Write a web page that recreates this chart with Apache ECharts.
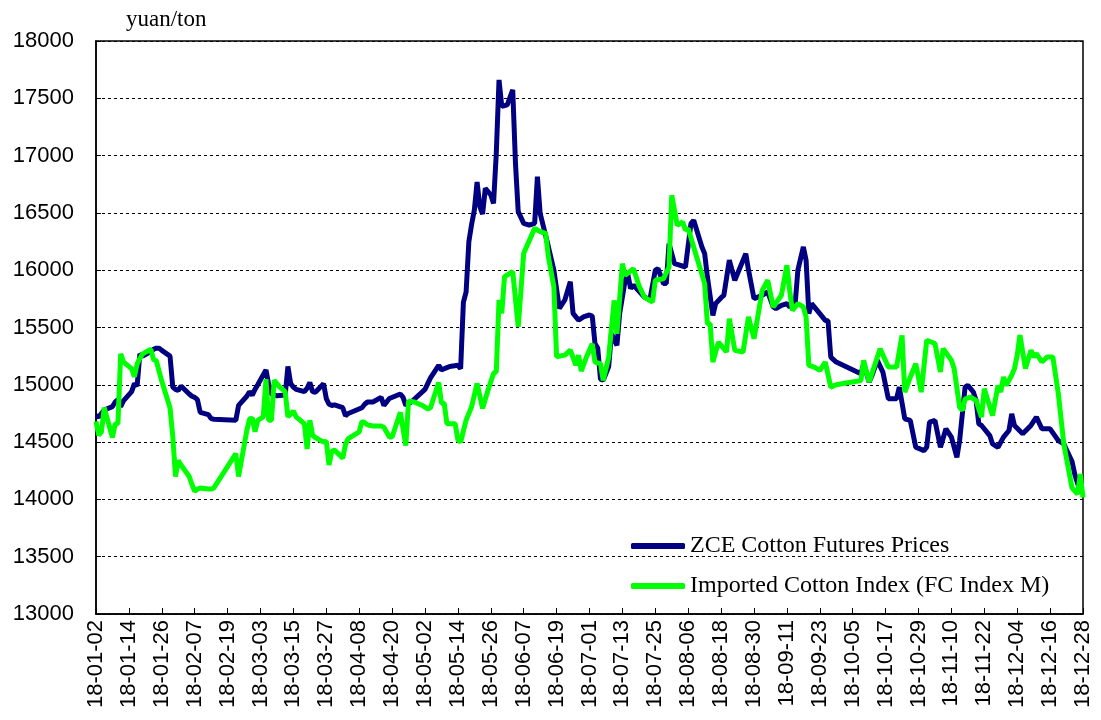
<!DOCTYPE html>
<html><head><meta charset="utf-8">
<script src="https://cdn.jsdelivr.net/npm/echarts@6/dist/echarts.min.js"></script>
<style>html,body{margin:0;padding:0;background:#fff}#c{width:1101px;height:720px}</style>
</head><body><div id="c"></div>
<script>
const unitLabel = 'yuan/ton';
const seriesNames = ['ZCE Cotton Futures Prices', 'Imported Cotton Index (FC Index M)'];
const yMin = 13000, yMax = 18000, yStep = 500;
const labelEveryDays = 12;

// [date (MM-DD, 2018), yuan/ton]
const zcePrices = [
['01-02',14730],['01-03',14720],['01-05',14780],['01-08',14810],['01-09',14850],['01-10',14870],['01-11',14810],['01-12',14860],
['01-15',14940],['01-16',15010],['01-17',14990],['01-18',15270],['01-19',15250],['01-22',15290],['01-23',15310],['01-24',15320],
['01-25',15320],['01-26',15300],['01-29',15250],['01-30',14980],['01-31',14960],['02-01',14950],['02-02',14990],['02-05',14920],
['02-06',14900],['02-07',14890],['02-08',14870],['02-09',14760],['02-12',14740],['02-13',14705],['02-14',14700],['02-22',14690],
['02-23',14820],['02-26',14900],['02-27',14940],['02-28',14910],['03-01',14960],['03-02',15000],['03-05',15130],['03-06',15000],
['03-07',14920],['03-08',14910],['03-09',14905],['03-12',14910],['03-13',15160],['03-14',15010],['03-15',14980],['03-16',14960],
['03-19',14940],['03-20',14970],['03-21',15020],['03-22',14940],['03-23',14935],['03-26',15010],['03-27',14880],['03-28',14830],
['03-29',14820],['03-30',14825],['04-02',14800],['04-03',14730],['04-04',14750],['04-09',14800],['04-10',14830],['04-11',14850],
['04-13',14850],['04-16',14890],['04-17',14820],['04-19',14880],['04-23',14920],['04-24',14890],['04-25',14820],['04-27',14850],
['05-02',14960],['05-03',15010],['05-04',15060],['05-07',15170],['05-08',15130],['05-09',15140],['05-10',15150],['05-11',15160],
['05-14',15170],['05-15',15140],['05-16',15720],['05-17',15810],['05-18',16250],['05-19',16400],['05-20',16525],['05-21',16770],
['05-22',16554],['05-23',16490],['05-24',16714],['05-26',16656],['05-27',16583],['05-28',17020],['05-29',17660],['05-30',17430],
['06-01',17442],['06-03',17573],['06-04',16933],['06-05',16511],['06-07',16409],['06-09',16394],['06-11',16409],['06-12',16816],
['06-13',16496],['06-16',16205],['06-18',16001],['06-20',15667],['06-22',15740],['06-24',15900],['06-25',15623],['06-27',15565],
['06-29',15594],['07-01',15609],['07-02',15600],['07-03',15360],['07-04',15320],['07-05',15050],['07-06',15040],['07-08',15160],
['07-09',15446],['07-11',15344],['07-12',15621],['07-14',15912],['07-15',15960],['07-16',15840],['07-17',15870],['07-21',15766],
['07-23',15740],['07-25',16001],['07-26',16014],['07-28',15883],['07-29',15883],['07-30',16232],['08-01',16057],['08-02',16050],
['08-05',16028],['08-07',16407],['08-08',16436],['08-11',16203],['08-12',16145],['08-13',15941],['08-15',15606],['08-16',15708],
['08-18',15760],['08-19',15781],['08-21',16087],['08-23',15912],['08-27',16145],['08-28',16001],['08-30',15752],['09-02',15780],
['09-04',15810],['09-06',15679],['09-07',15664],['09-09',15693],['09-11',15708],['09-12',15679],['09-14',15700],['09-15',16001],
['09-17',16203],['09-18',16087],['09-19',15621],['09-20',15708],['09-23',15621],['09-25',15562],['09-26',15560],['09-27',15242],
['09-29',15198],['10-08',15096],['10-09',15184],['10-11',15024],['10-12',15080],['10-14',15213],['10-16',15111],['10-18',14878],
['10-21',14878],['10-22',14980],['10-24',14703],['10-26',14689],['10-28',14456],['10-31',14426],['11-01',14455],['11-02',14674],
['11-04',14689],['11-06',14455],['11-08',14616],['11-10',14543],['11-12',14367],['11-13',14513],['11-15',14980],['11-16',14995],
['11-18',14937],['11-19',14864],['11-20',14659],['11-21',14645],['11-24',14557],['11-25',14484],['11-27',14455],['11-29',14543],
['12-01',14601],['12-02',14747],['12-03',14645],['12-06',14572],['12-09',14645],['12-11',14718],['12-13',14616],['12-16',14616],
['12-19',14513],['12-21',14484],['12-24',14330],['12-25',14220],['12-26',14140],['12-27',14080]
];

const fcIndexM = [
['01-02',14680],['01-03',14560],['01-04',14590],['01-05',14800],['01-08',14540],['01-09',14660],['01-10',14660],['01-11',15270],
['01-12',15200],['01-15',15140],['01-16',15070],['01-17',15180],['01-18',15230],['01-19',15270],['01-22',15310],['01-23',15220],
['01-24',15210],['01-25',15120],['01-26',15030],['01-29',14800],['01-30',14550],['01-31',14200],['02-01',14340],['02-02',14300],
['02-05',14200],['02-06',14130],['02-07',14070],['02-08',14090],['02-09',14100],['02-12',14090],['02-13',14090],['02-14',14100],
['02-22',14400],['02-23',14200],['02-26',14600],['02-27',14700],['02-28',14710],['03-01',14590],['03-02',14690],['03-04',14720],
['03-05',15050],['03-06',14690],['03-07',14690],['03-08',15040],['03-10',14980],['03-12',14940],['03-13',14720],['03-15',14770],
['03-16',14720],['03-19',14660],['03-20',14440],['03-21',14690],['03-22',14560],['03-23',14540],['03-26',14500],['03-27',14510],
['03-28',14300],['03-29',14420],['03-30',14430],['04-02',14360],['04-03',14480],['04-04',14530],['04-08',14590],['04-09',14680],
['04-10',14670],['04-11',14650],['04-13',14640],['04-16',14640],['04-17',14630],['04-19',14545],['04-20',14545],['04-23',14760],
['04-25',14470],['04-26',14860],['04-28',14850],['05-01',14820],['05-03',14790],['05-04',14800],['05-07',15020],['05-08',14840],
['05-09',14840],['05-10',14660],['05-13',14660],['05-14',14520],['05-15',14500],['05-17',14692],['05-19',14808],['05-21',15012],
['05-23',14794],['05-25',14954],['05-27',15099],['05-28',15114],['05-29',15740],['05-30',15623],['05-31',15943],['06-03',15987],
['06-05',15507],['06-07',16147],['06-11',16365],['06-13',16336],['06-15',16321],['06-16',16118],['06-18',15856],['06-19',15245],
['06-22',15259],['06-24',15303],['06-26',15172],['06-27',15259],['06-28',15120],['06-30',15250],['07-02',15358],['07-03',15198],
['07-05',15184],['07-06',15038],['07-08',15242],['07-10',15737],['07-11',15446],['07-13',16057],['07-14',15955],['07-17',16014],
['07-19',15868],['07-21',15766],['07-24',15722],['07-25',15912],['07-28',15926],['07-30',16028],['07-31',16654],['08-02',16392],
['08-04',16421],['08-05',16349],['08-06',16363],['08-08',16203],['08-12',15883],['08-13',15533],['08-14',15533],['08-15',15198],
['08-17',15373],['08-20',15286],['08-21',15577],['08-23',15300],['08-26',15286],['08-28',15592],['08-30',15402],['09-02',15824],
['09-04',15912],['09-06',15679],['09-09',15781],['09-11',16044],['09-12',15824],['09-13',15650],['09-15',15708],['09-17',15679],
['09-18',15591],['09-19',15169],['09-21',15155],['09-23',15126],['09-25',15198],['09-27',14980],['09-29',15000],['10-08',15038],
['10-09',15213],['10-11',15024],['10-15',15315],['10-18',15155],['10-21',15155],['10-23',15431],['10-24',14936],['10-26',15067],
['10-28',15184],['10-30',14936],['11-01',15389],['11-04',15360],['11-06',15112],['11-07',15316],['11-10',15214],['11-11',15141],
['11-13',14805],['11-14',14776],['11-15',14878],['11-17',14893],['11-19',14864],['11-21',14718],['11-22',14966],['11-25',14732],
['11-27',14995],['11-28',14937],['11-29',15068],['11-30',14995],['12-02',15083],['12-03',15141],['12-04',15258],['12-05',15433],
['12-07',15141],['12-09',15302],['12-10',15243],['12-11',15272],['12-13',15199],['12-15',15243],['12-17',15243],['12-19',14922],
['12-21',14484],['12-24',14100],['12-26',14046],['12-27',14221],['12-28',14017]
];

// calendar-day categories 18-01-02 … 18-12-28
const categories = [];
for (let t = Date.UTC(2018, 0, 2); t <= Date.UTC(2018, 11, 28); t += 86400000) {
  const d = new Date(t);
  categories.push('18-' + String(d.getUTCMonth() + 1).padStart(2, '0') + '-' + String(d.getUTCDate()).padStart(2, '0'));
}
const toSeries = arr => arr.map(p => ['18-' + p[0], p[1]]);

const chart = echarts.init(document.getElementById('c'), null, {renderer: 'canvas'});
const sans = "'Liberation Sans', Arial, sans-serif";
const serif = "'Liberation Serif', 'Times New Roman', serif";
chart.setOption({
  animation: false,
  backgroundColor: '#fff',
  title: {
    text: unitLabel, left: 121, top: 3,
    textStyle: {fontFamily: serif, fontSize: 23, fontWeight: 'normal', color: '#000'}
  },
  legend: {
    orient: 'vertical', left: 626, top: 529, itemGap: 16,
    itemWidth: 54, itemHeight: 6, icon: 'roundRect',
    textStyle: {fontFamily: serif, fontSize: 24, color: '#000'},
    data: seriesNames
  },
  grid: {left: 96, right: 18, top: 41, bottom: 106, show: true, borderColor: '#000', borderWidth: 1.5, containLabel: false},
  xAxis: {
    type: 'category', data: categories, boundaryGap: false,
    axisLine: {lineStyle: {color: '#000', width: 1.5}},
    axisTick: {inside: true, interval: labelEveryDays - 1, length: 6, lineStyle: {color: '#000'}},
    axisLabel: {interval: labelEveryDays - 1, rotate: 90, margin: 6, fontFamily: sans, fontSize: 22, color: '#000'},
    splitLine: {show: false}
  },
  yAxis: {
    type: 'value', min: yMin, max: yMax, interval: yStep,
    axisLine: {show: true, lineStyle: {color: '#000', width: 1.5}},
    axisTick: {show: true, inside: true, length: 5, lineStyle: {color: '#000'}},
    axisLabel: {margin: 22, fontFamily: sans, fontSize: 22, color: '#000', formatter: v => String(v)},
    splitLine: {show: true, lineStyle: {color: '#000', width: 1, type: [3, 3]}}
  },
  series: [
    {name: seriesNames[0], type: 'line', data: toSeries(zcePrices), symbol: 'none',
     lineStyle: {color: '#000080', width: 5}, itemStyle: {color: '#000080'}},
    {name: seriesNames[1], type: 'line', data: toSeries(fcIndexM), symbol: 'none',
     lineStyle: {color: '#00FF00', width: 5}, itemStyle: {color: '#00FF00'}}
  ]
});
</script>
</body></html>
